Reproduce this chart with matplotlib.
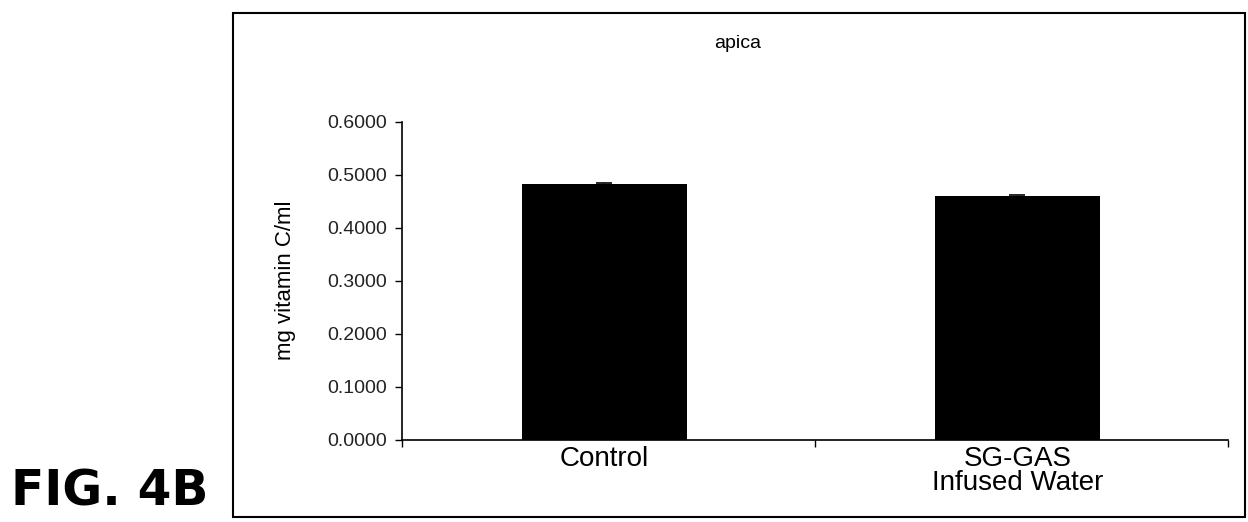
import matplotlib.pyplot as plt
from matplotlib.patches import Rectangle

categories = ['Control', 'SG-GAS\nInfused Water']
values = [0.483, 0.460]
errors = [0.002, 0.002]
yticks = [0.0, 0.1, 0.2, 0.3, 0.4, 0.5, 0.6]

plt.rcParams['font.family'] = ['Liberation Sans', 'DejaVu Sans']

fig = plt.figure(figsize=(12.48, 5.22), dpi=100)
ax = fig.add_axes([0.3221, 0.1571, 0.6619, 0.6092])

x = range(len(categories))
ax.bar(x, values, width=0.4, color='black', yerr=errors,
       error_kw=dict(ecolor='black', capsize=5.5, elinewidth=1, capthick=1.2))

ax.set_xlim(-0.49, 1.51)
ax.set_ylim(0, 0.6)
ax.set_yticks(yticks)
ax.set_yticklabels(['%.4f' % v for v in yticks], fontsize=14, color='#222222')
ax.set_xticks([-0.49, 0.51, 1.51])
ax.set_xticklabels([])
for i, c in enumerate(categories):
    ax.text(i, -0.012, c, ha='center', va='top', fontsize=20,
            linespacing=0.88, transform=ax.transData)
ax.tick_params(axis='y', direction='out', length=5, width=1, pad=6)
ax.tick_params(axis='x', direction='out', length=5, width=1)
for s in ['top', 'right']:
    ax.spines[s].set_visible(False)
ax.spines['left'].set_linewidth(1.2)
ax.spines['bottom'].set_linewidth(1.2)

fig.text(738 / 1248, 1 - 43 / 522, 'apica', ha='center', va='center', fontsize=14)
fig.text(285 / 1248, 1 - 280 / 522, 'mg vitamin C/ml', ha='center', va='center',
         rotation=90, fontsize=16)
fig.text(11 / 1248, 1 - 492 / 522, 'FIG. 4B', ha='left', va='center',
         fontsize=35, fontweight='bold', family='DejaVu Sans')

fig.patches.append(Rectangle((233 / 1248, 1 - 517 / 522), 1012 / 1248, 504 / 522,
                             transform=fig.transFigure, fill=False,
                             edgecolor='black', linewidth=1.5))

fig.savefig('out.png', dpi=100)
